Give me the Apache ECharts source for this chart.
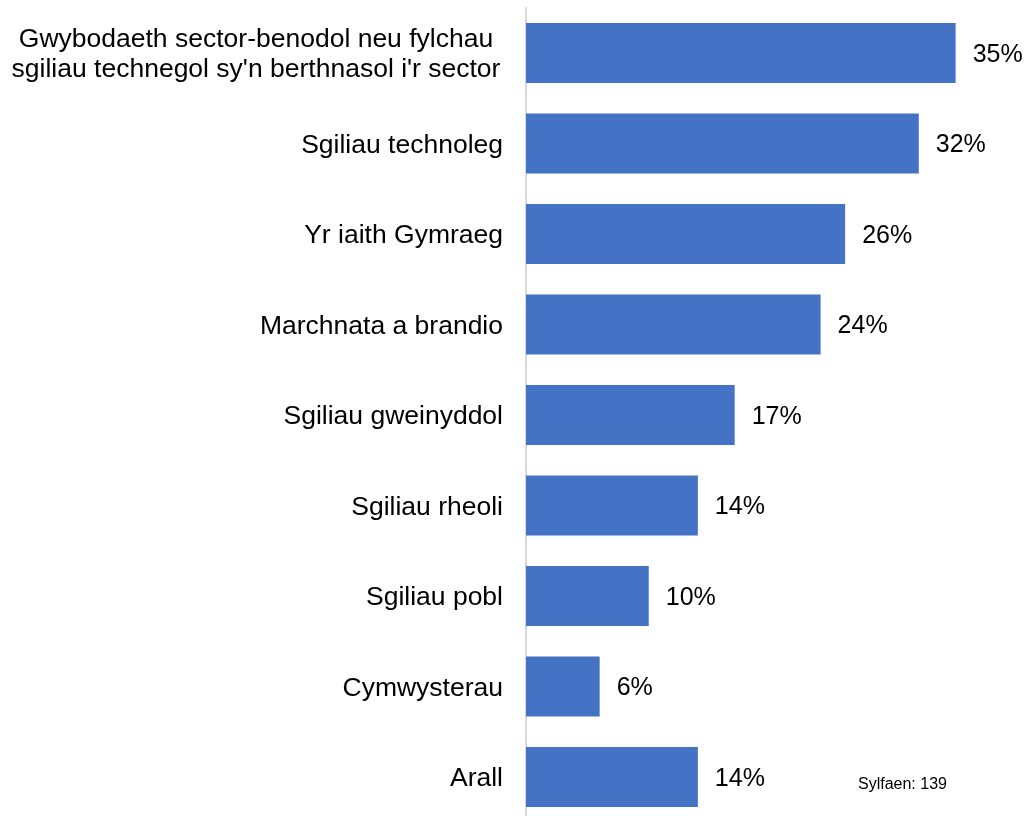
<!DOCTYPE html>
<html><head><meta charset="utf-8">
<script src="https://cdn.jsdelivr.net/npm/echarts@6/dist/echarts.min.js"></script>
<style>html,body{margin:0;padding:0;background:#fff;overflow:hidden}#c{width:1030px;height:823px}</style>
</head><body><div id="c"></div>
<script>
const categories = [
  "Gwybodaeth sector-benodol neu fylchau\nsgiliau technegol sy'n berthnasol i'r sector",
  "Sgiliau technoleg",
  "Yr iaith Gymraeg",
  "Marchnata a brandio",
  "Sgiliau gweinyddol",
  "Sgiliau rheoli",
  "Sgiliau pobl",
  "Cymwysterau",
  "Arall"
];
const values = [35, 32, 26, 24, 17, 14, 10, 6, 14];
const baseNote = "Sylfaen: 139";

const FONT = 'Liberation Sans, Arial, sans-serif';
const chart = echarts.init(document.getElementById('c'), null, {renderer: 'canvas'});
chart.setOption({
  animation: false,
  backgroundColor: '#fff',
  textStyle: {fontFamily: FONT},
  grid: {left: 526, top: 7.75, height: 814.5, width: 491, containLabel: false},
  xAxis: {type: 'value', min: 0, max: 40, show: false},
  yAxis: {
    type: 'category', data: categories, inverse: true,
    axisLine: {show: true, lineStyle: {color: '#d9d9d9', width: 2}},
    axisTick: {show: false},
    axisLabel: {
      margin: 23, color: '#000', fontSize: 26.5, fontFamily: FONT,
      lineHeight: 30, padding: [4, 0, 0, 0],
      formatter: function (v) {
        if (v.indexOf('\n') >= 0) {
          return v.split('\n').map(s => '{c|' + s + '}').join('\n');
        }
        return v;
      },
      rich: {c: {width: 494, align: 'center', fontSize: 26.5, lineHeight: 30, color: '#000', fontFamily: FONT}}
    }
  },
  series: [{
    type: 'bar', data: values, barWidth: 60,
    itemStyle: {color: '#4472C4'},
    label: {show: true, position: 'right', distance: 17, offset: [0, 2], formatter: '{c}%', color: '#000', fontSize: 25, fontFamily: FONT}
  }],
  graphic: [{
    type: 'text', left: 858, top: 777,
    style: {text: baseNote, fontSize: 16, fill: '#000', fontFamily: FONT}
  }]
});
</script></body></html>
